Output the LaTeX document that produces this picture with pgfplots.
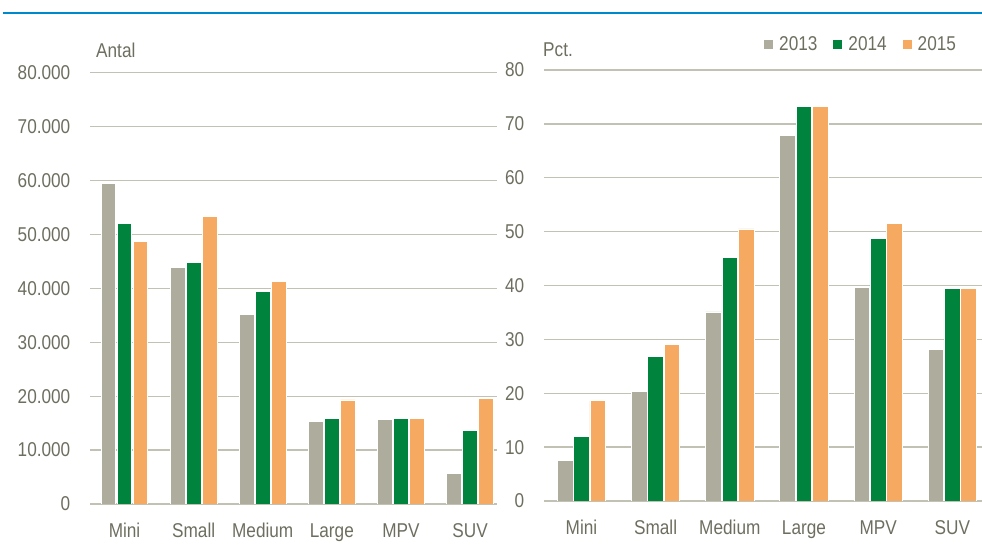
\documentclass[border=0pt]{standalone}
\usepackage{fontspec}
\setmainfont{Liberation Sans}[FakeStretch=0.86]
\usepackage{pgfplots}
\pgfplotsset{compat=1.18}
\definecolor{cgray}{RGB}{174,172,157}
\definecolor{cgreen}{RGB}{0,132,61}
\definecolor{corange}{RGB}{246,169,96}
\definecolor{ctext}{RGB}{110,110,96}
\definecolor{cgrid}{RGB}{194,194,180}
\definecolor{cblue}{RGB}{0,136,204}
\newcommand{\lf}{\fontsize{20bp}{24bp}\selectfont}
\begin{document}
\begin{tikzpicture}
\path[use as bounding box] (0bp,0bp) rectangle (982bp,546bp);
\draw[cblue, line width=2.5bp] (3bp,533bp) -- (982bp,533bp);
\pgfplotsset{
  base/.style={
    scale only axis, anchor=south west,
    ybar=0pt, bar width=0.21,
    enlargelimits=false,
    axis lines=left, axis line style={-},
    y axis line style={draw=none},
    x axis line style={cgrid, line width=1.6bp},
    major tick length=0pt,
    ymajorgrids, grid style={cgrid, line width=1.3bp},
    xtick={0,1,2,3,4,5},
    xticklabels={Mini,Small,Medium,Large,MPV,SUV},
    tick label style={font=\lf, text=ctext},
    /pgf/number format/assume math mode=true,
    xticklabel style={anchor=base, inner sep=0pt, yshift=-33bp},
    yticklabel style={anchor=east, inner sep=0pt, xshift=-19.5bp},
    every axis plot/.append style={draw=white, line width=0.8bp},
  }
}
\begin{axis}[base, at={(90bp,42bp)}, width=407bp, height=431.3bp,
  xmin=-0.5, xmax=5.39, ymin=0, ymax=80000,
  ytick={0,10000,...,80000}, scaled y ticks=false,
  yticklabel style={/pgf/number format/.cd, fixed, 1000 sep={.}}]
\addplot[fill=cgray, bar shift=-0.2315] coordinates {(0,59400) (1,43800) (2,35200) (3,15300) (4,15600) (5,5700)};
\addplot[fill=cgreen, bar shift=0] coordinates {(0,52000) (1,44800) (2,39400) (3,15900) (4,15950) (5,13700)};
\addplot[fill=corange, bar shift=0.2315] coordinates {(0,48700) (1,53300) (2,41300) (3,19300) (4,15800) (5,19600)};
\end{axis}
\begin{axis}[base, at={(544bp,45bp)}, width=438bp, height=431bp,
  xmin=-0.505, xmax=5.40, ymin=0, ymax=80,
  ytick={0,10,...,80},
  legend columns=3,
  legend style={draw=none, fill=none, at={(0.5023,1.0603)}, anchor=west,
    inner sep=0pt, font=\lf, text=ctext,
    nodes={inner sep=0pt},
    /tikz/every odd column/.append style={column sep=6bp},
    /tikz/every even column/.append style={column sep=16bp}},
  legend image code/.code={\fill[#1,draw=none] (0bp,-4.5bp) rectangle (9bp,4.5bp);}]
\addplot[fill=cgray, bar shift=-0.22] coordinates {(0,7.6) (1,20.3) (2,35.1) (3,67.9) (4,39.7) (5,28.1)};
\addplot[fill=cgreen, bar shift=0] coordinates {(0,11.9) (1,26.9) (2,45.2) (3,73.3) (4,48.8) (5,39.4)};
\addplot[fill=corange, bar shift=0.22] coordinates {(0,18.6) (1,29.0) (2,50.5) (3,73.3) (4,51.6) (5,39.4)};
\legend{2013,2014,2015}
\end{axis}
\node[anchor=west, inner sep=0pt, font=\lf, text=ctext] at (96bp,496bp) {Antal};
\node[anchor=west, inner sep=0pt, font=\lf, text=ctext] at (543bp,496bp) {Pct.};
\end{tikzpicture}
\end{document}
